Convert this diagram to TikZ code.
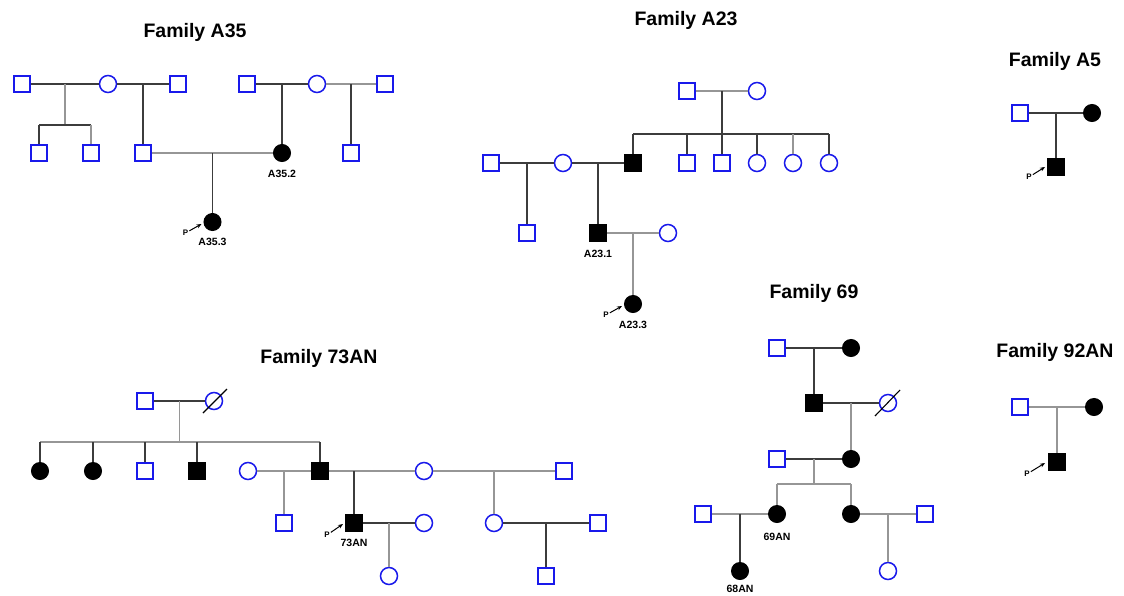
\documentclass[tikz,border=0pt]{standalone}
\usepackage{fontspec}
\setmainfont{Liberation Sans}
\usetikzlibrary{calc,arrows.meta}
\definecolor{lnD}{RGB}{60,60,60}
\definecolor{lnL}{RGB}{150,150,150}
\definecolor{pblue}{RGB}{25,25,235}
\begin{document}
\begin{tikzpicture}[x=1pt,y=-1pt,
 msq/.style={rectangle,draw=pblue,line width=1.5pt,minimum size=16pt,inner sep=0pt,fill=white},
 fsq/.style={rectangle,draw=black,fill=black,line width=1pt,minimum size=16.5pt,inner sep=0pt},
 fc/.style={circle,draw=pblue,line width=1.5pt,minimum size=17pt,inner sep=0pt,fill=white},
 ffc/.style={circle,draw=black,fill=black,line width=1pt,minimum size=17pt,inner sep=0pt},
 dk/.style={draw=lnD,line width=1.3pt},
 lt/.style={draw=lnL,line width=1.3pt},
 ttl/.style={font=\bfseries\fontsize{19.5}{22}\selectfont,inner sep=0pt},
 lbl/.style={font=\bfseries\fontsize{10.5}{12}\selectfont,inner sep=0pt},
 ptext/.style={font=\bfseries\fontsize{8}{9}\selectfont,inner sep=1pt},
 parrow/.style={-{Stealth[length=5pt,width=4pt]},line width=1pt,draw=black},
 slash/.style={draw=black,line width=1.1pt}
]
\fill[white] (0,0) rectangle (1124,595);
\useasboundingbox (0,0) rectangle (1124,595);

% ================= Family A35 =================
\node[ttl] (tA35) at (195,32) {Family A35};
\node[msq] (a1) at (22,84) {};
\node[fc]  (a2) at (108,84) {};
\node[msq] (a3) at (178,84) {};
\node[msq] (a4) at (247,84) {};
\node[fc]  (a5) at (317,84) {};
\node[msq] (a6) at (385,84) {};
\node[msq] (a7) at (39,153) {};
\node[msq] (a8) at (91,153) {};
\node[msq] (a9) at (143,153) {};
\node[ffc] (a10) at (282,153) {};
\node[msq] (a11) at (351,153) {};
\node[ffc] (a12) at (212.5,222) {};
\node[lbl] (la10) at (282,174) {A35.2};
\node[lbl] (la12) at (212.5,242) {A35.3};
\coordinate (am1) at ($(a1)!.5!(a2)$);
\coordinate (as1) at (65,125);
\coordinate (am2) at ($(a2)!.5!(a3)$);
\coordinate (am3) at ($(a4)!.5!(a5)$);
\coordinate (am4) at ($(a5)!.5!(a6)$);
\coordinate (am5) at ($(a9)!.5!(a10)$);
\draw[dk] (a1) -- (a2);
\draw[lt] (am1) -- (as1);
\draw[dk] (a7 |- as1) -- (a8 |- as1);
\draw[dk] (a7 |- as1) -- (a7);
\draw[lt] (a8 |- as1) -- (a8);
\draw[dk] (a2) -- (a3);
\draw[dk] (am2) -- (a9);
\draw[dk] (a4) -- (a5);
\draw[dk] (am3) -- (a10);
\draw[lt] (a5) -- (a6);
\draw[dk] (am4) -- (a11);
\draw[lt] (a9) -- (a10);
\draw[dk] (am5) -- (a12);
\node[ptext] (pa12) at ($(a12)+(-27,11)$) {P};
\coordinate (pa12t) at ($(a12)+(-11,2)$);
\draw[parrow] (pa12) -- (pa12t);

% ================= Family A23 =================
\node[ttl] (tA23) at (686,20) {Family A23};
\node[msq] (b1) at (687,91) {};
\node[fc]  (b2) at (757,91) {};
\node[msq] (b3) at (491,163) {};
\node[fc]  (b4) at (563,163) {};
\node[fsq] (b5) at (633,163) {};
\node[msq] (b6) at (687,163) {};
\node[msq] (b7) at (722,163) {};
\node[fc]  (b8) at (757,163) {};
\node[fc]  (b9) at (793,163) {};
\node[fc]  (b10) at (829,163) {};
\node[msq] (b11) at (527,233) {};
\node[fsq] (b12) at (598,233) {};
\node[fc]  (b13) at (668,233) {};
\node[ffc] (b14) at (633,304) {};
\node[lbl] (lb12) at (598,254) {A23.1};
\node[lbl] (lb14) at (633,325) {A23.3};
\coordinate (bm1) at ($(b1)!.5!(b2)$);
\coordinate (bs1) at (722,134);
\coordinate (bm2) at ($(b3)!.5!(b4)$);
\coordinate (bm3) at ($(b4)!.5!(b5)$);
\coordinate (bm4) at ($(b12)!.5!(b13)$);
\draw[lt] (b1) -- (b2);
\draw[dk] (bm1) -- (bs1);
\draw[dk] (b5 |- bs1) -- (b10 |- bs1);
\draw[dk] (b5 |- bs1) -- (b5);
\draw[dk] (b6 |- bs1) -- (b6);
\draw[dk] (bs1) -- (b7);
\draw[dk] (b8 |- bs1) -- (b8);
\draw[lt] (b9 |- bs1) -- (b9);
\draw[dk] (b10 |- bs1) -- (b10);
\draw[dk] (b3) -- (b4);
\draw[dk] (b4) -- (b5);
\draw[dk] (bm2) -- (b11);
\draw[dk] (bm3) -- (b12);
\draw[lt] (b12) -- (b13);
\draw[lt] (bm4) -- (b14);
\node[ptext] (pb14) at ($(b14)+(-27,11)$) {P};
\coordinate (pb14t) at ($(b14)+(-11,2)$);
\draw[parrow] (pb14) -- (pb14t);

% ================= Family A5 =================
\node[ttl] (tA5) at (1055,61) {Family A5};
\node[msq] (c1) at (1020,113) {};
\node[ffc] (c2) at (1092,113) {};
\node[fsq] (c3) at (1056,167) {};
\coordinate (cm1) at ($(c1)!.5!(c2)$);
\draw[dk] (c1) -- (c2);
\draw[dk] (cm1) -- (c3);
\node[ptext] (pc3) at ($(c3)+(-27,10)$) {P};
\coordinate (pc3t) at ($(c3)+(-11,0)$);
\draw[parrow] (pc3) -- (pc3t);

% ================= Family 73AN =================
\node[ttl] (t73) at (319,358) {Family 73AN};
\node[msq] (d1) at (145,401) {};
\node[fc]  (d2) at (214,401) {};
\node[ffc] (d3) at (40,471) {};
\node[ffc] (d4) at (93,471) {};
\node[msq] (d5) at (145,471) {};
\node[fsq] (d6) at (197,471) {};
\node[fc]  (d7) at (248,471) {};
\node[fsq] (d8) at (320,471) {};
\node[fc]  (d9) at (424,471) {};
\node[msq] (d10) at (564,471) {};
\node[msq] (d11) at (284,523) {};
\node[fsq] (d12) at (354,523) {};
\node[fc]  (d13) at (424,523) {};
\node[fc]  (d14) at (494,523) {};
\node[msq] (d15) at (598,523) {};
\node[fc]  (d16) at (389,576) {};
\node[msq] (d17) at (546,576) {};
\node[lbl] (ld12) at (354,543) {73AN};
\coordinate (dm1) at ($(d1)!.5!(d2)$);
\coordinate (ds1) at (179.5,442);
\coordinate (dm2) at ($(d7)!.5!(d8)$);
\coordinate (dm3) at ($(d9)!.5!(d10)$);
\coordinate (dm4) at ($(d12)!.5!(d13)$);
\coordinate (dm5) at ($(d14)!.5!(d15)$);
\draw[dk] (d1) -- (d2);
\draw[lt] (dm1) -- (ds1);
\draw[lt] (d3 |- ds1) -- (d8 |- ds1);
\draw[dk] (d3 |- ds1) -- (d3);
\draw[dk] (d4 |- ds1) -- (d4);
\draw[dk] (d5 |- ds1) -- (d5);
\draw[dk] (d6 |- ds1) -- (d6);
\draw[dk] (d8 |- ds1) -- (d8);
\draw[lt] (d7) -- (d8);
\draw[lt] (dm2) -- (d11);
\draw[lt] (d8) -- (d9);
\draw[dk] (d12 |- d8) -- (d12);
\draw[lt] (d9) -- (d10);
\draw[lt] (dm3) -- (d14);
\draw[dk] (d12) -- (d13);
\draw[lt] (dm4) -- (d16);
\draw[dk] (d14) -- (d15);
\draw[dk] (dm5) -- (d17);
\coordinate (d2s1) at ($(d2)+(-11,12)$);
\coordinate (d2s2) at ($(d2)+(13,-12)$);
\draw[slash] (d2s1) -- (d2s2);
\node[ptext] (pd12) at ($(d12)+(-27,12)$) {P};
\coordinate (pd12t) at ($(d12)+(-11,1)$);
\draw[parrow] (pd12) -- (pd12t);

% ================= Family 69 =================
\node[ttl] (t69) at (814,293) {Family 69};
\node[msq] (e1) at (777,348) {};
\node[ffc] (e2) at (851,348) {};
\node[fsq] (e3) at (814,403) {};
\node[fc]  (e4) at (888,403) {};
\node[msq] (e6) at (777,459) {};
\node[ffc] (e5) at (851,459) {};
\node[msq] (e9) at (703,514) {};
\node[ffc] (e7) at (777,514) {};
\node[ffc] (e8) at (851,514) {};
\node[msq] (e10) at (925,514) {};
\node[ffc] (e11) at (740,571) {};
\node[fc]  (e12) at (888,571) {};
\node[lbl] (le7) at (777,537) {69AN};
\node[lbl] (le11) at (740,589) {68AN};
\coordinate (em1) at ($(e1)!.5!(e2)$);
\coordinate (em2) at ($(e3)!.5!(e4)$);
\coordinate (em3) at ($(e6)!.5!(e5)$);
\coordinate (es1) at (814,484);
\coordinate (em4) at ($(e9)!.5!(e7)$);
\coordinate (em5) at ($(e8)!.5!(e10)$);
\draw[dk] (e1) -- (e2);
\draw[dk] (em1) -- (e3);
\draw[dk] (e3) -- (e4);
\draw[lt] (em2) -- (e5);
\draw[dk] (e6) -- (e5);
\draw[lt] (em3) -- (es1);
\draw[lt] (e7 |- es1) -- (e8 |- es1);
\draw[lt] (e7 |- es1) -- (e7);
\draw[lt] (e8 |- es1) -- (e8);
\draw[lt] (e9) -- (e7);
\draw[dk] (em4) -- (e11);
\draw[lt] (e8) -- (e10);
\draw[lt] (em5) -- (e12);
\coordinate (e4s1) at ($(e4)+(-13,13)$);
\coordinate (e4s2) at ($(e4)+(12,-13)$);
\draw[slash] (e4s1) -- (e4s2);

% ================= Family 92AN =================
\node[ttl] (t92) at (1055,352) {Family 92AN};
\node[msq] (f1) at (1020,407) {};
\node[ffc] (f2) at (1094,407) {};
\node[fsq] (f3) at (1057,462) {};
\coordinate (fm1) at ($(f1)!.5!(f2)$);
\draw[lt] (f1) -- (f2);
\draw[lt] (fm1) -- (f3);
\node[ptext] (pf3) at ($(f3)+(-30,12)$) {P};
\coordinate (pf3t) at ($(f3)+(-12,1)$);
\draw[parrow] (pf3) -- (pf3t);
\end{tikzpicture}
\end{document}
